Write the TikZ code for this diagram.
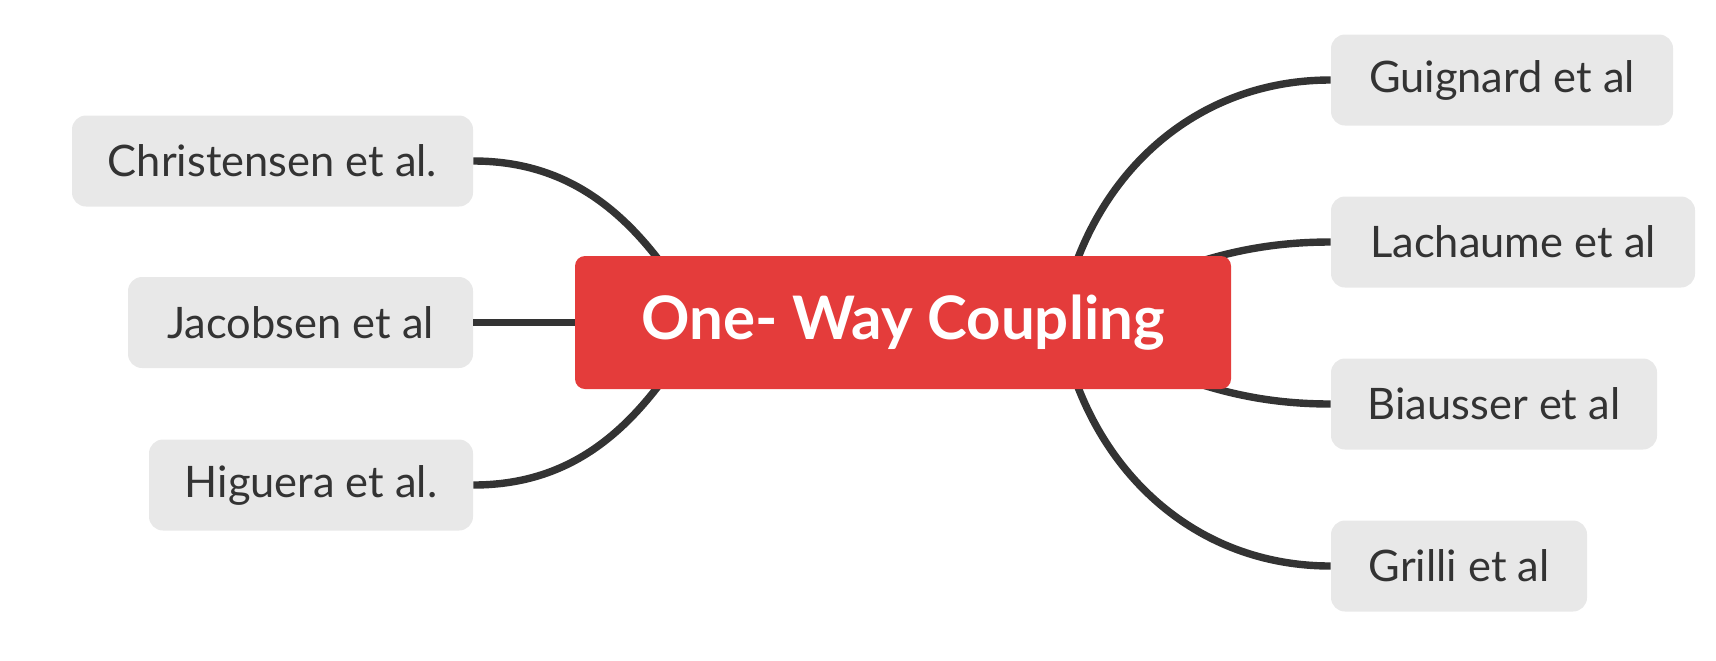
\documentclass[tikz,border=0pt]{standalone}
\usepackage{fontspec}
\setmainfont{Lato}
\usetikzlibrary{positioning}
\definecolor{corered}{HTML}{E43C3B}
\definecolor{leafgray}{HTML}{E8E8E8}
\definecolor{inkgray}{HTML}{333333}
\begin{document}
\begin{tikzpicture}[x=0.5pt,y=-0.5pt,
  leaf/.style={rectangle, rounded corners=7pt, fill=leafgray, text=inkgray,
    minimum height=45.5pt, inner sep=0pt, font=\fontsize{21.7}{25}\selectfont},
  core/.style={rectangle, rounded corners=5pt, fill=corered, text=white,
    minimum width=328pt, minimum height=66.5pt, inner sep=0pt,
    font=\fontsize{30}{34}\selectfont\bfseries},
  branch/.style={draw=inkgray, line width=3.7pt}]
\useasboundingbox (0,0) rectangle (1716,660);
% leaves on the left
\node[leaf, minimum width=200.5pt] (chris) at (272.5,161) {Christensen et al.};
\node[leaf, minimum width=172.5pt] (jacob) at (300.5,322.5) {Jacobsen et al};
\node[leaf, minimum width=162pt] (higu) at (311,485) {Higuera et al.};
% leaves on the right
\node[leaf, minimum width=171pt] (guig) at (1502,80) {Guignard et al};
\node[leaf, minimum width=182pt] (lach) at (1513,242) {Lachaume et al};
\node[leaf, minimum width=163pt] (biau) at (1494,404) {Biausser et al};
\node[leaf, minimum width=128pt] (gril) at (1459,566) {Grilli et al};
% hidden start points under the centre
\coordinate (hubL) at (700,322.5);
\coordinate (hubR) at (1060,322.5);
\coordinate (hubM) at (1040,322.5);
\draw[branch] (hubL) to[out=120,in=0] (chris.east);
\draw[branch] (hubL) to[out=-120,in=0] (higu.east);
\draw[branch] (hubR) to[out=80,in=180] (guig.west);
\draw[branch] (hubM) to[out=20,in=180] (lach.west);
\draw[branch] (hubM) to[out=-20,in=180] (biau.west);
\draw[branch] (hubR) to[out=-80,in=180] (gril.west);
% centre topic
\node[core] (core) at (903,322.5) {One- Way Coupling};
\draw[branch] (jacob.east) -- (core.west);
\end{tikzpicture}
\end{document}
